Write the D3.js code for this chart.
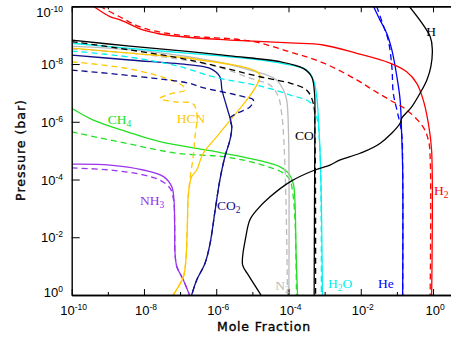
<!DOCTYPE html>
<html>
<head>
<meta charset="utf-8">
<script src="https://cdn.jsdelivr.net/npm/d3@7"></script>
<style>
  body { margin: 0; background: #fff; }
</style>
</head>
<body>
<div id="chart"></div>
<script>
// every profile is a list of [log10 mole fraction, log10 pressure (bar)]
const h2Solid = [[-9.40,-10],[-8.94,-9.64],[-8.66,-9.53],[-8.03,-9.18],[-7.56,-9.04],[-6.73,-8.92],[-5.62,-8.83],[-3.96,-8.73],[-3.04,-8.66],[-2.11,-8.37],[-1.19,-8.03],[-0.73,-7.73],[-0.45,-7.33],[-0.27,-6.75],[-0.13,-5.95],[-0.04,-5.02],[-0.04,0]]
const h2Dashed = [[-9.22,-10],[-8.66,-9.63],[-8.03,-9.25],[-7.0,-9.0],[-5.07,-8.8],[-3.96,-8.42],[-3.04,-8.04],[-2.11,-7.45],[-1.66,-7.1],[-1.19,-6.75],[-0.73,-6.41],[-0.28,-5.83],[-0.13,-5.37],[-0.08,-4.79],[-0.08,0]]
const heSolid = [[-1.65,-10],[-1.47,-9.53],[-1.28,-9.06],[-1.14,-8.49],[-1.0,-7.56],[-0.91,-6.75],[-0.87,-5.61],[-0.84,-4.33],[-0.84,0]]
const heDashed = [[-1.56,-10],[-1.38,-9.35],[-1.24,-8.83],[-1.14,-7.91],[-1.10,-6.99],[-1.0,-6.41],[-0.87,-5.61],[-0.84,-4.33],[-0.84,0]]
const hSolid = [[-0.66,-10],[-0.08,-8.95],[-0.02,-8.49],[-0.06,-7.91],[-0.17,-7.45],[-0.36,-6.99],[-0.59,-6.52],[-0.87,-6.12],[-0.91,-5.95],[-1.47,-5.25],[-2.02,-4.91],[-2.57,-4.68],[-2.85,-4.50],[-3.27,-4.33],[-3.96,-3.92],[-4.51,-3.40],[-4.88,-2.94],[-5.07,-2.60],[-5.18,-2.02],[-5.27,-1.04],[-5.11,-0.69],[-4.76,0]]
const h2oSolid = [[-10,-8.72],[-8.39,-8.54],[-6.73,-8.37],[-5.62,-8.25],[-4.23,-8.03],[-3.50,-7.79],[-3.31,-7.45],[-3.22,-6.87],[-3.17,-6.06],[-3.11,-4.33],[-3.06,0]]
const h2oDashed = [[-10,-8.45],[-8.39,-8.24],[-7.0,-7.91],[-6.09,-7.56],[-4.70,-7.21],[-3.96,-6.93],[-3.40,-6.67],[-3.22,-6.17],[-3.13,-5.02],[-3.09,0]]
const coSolid = [[-10,-8.83],[-8.39,-8.62],[-6.73,-8.43],[-5.62,-8.28],[-4.23,-8.08],[-3.59,-7.85],[-3.36,-7.56],[-3.28,-6.99],[-3.27,-6.06],[-3.28,-3.29],[-3.29,0]]
const coDashed = [[-10,-8.78],[-8.39,-8.49],[-6.73,-8.14],[-4.79,-7.56],[-3.96,-7.34],[-3.50,-7.10],[-3.31,-6.62],[-3.27,-5.72],[-3.25,0]]
const n2Solid = [[-10,-8.62],[-7.83,-8.43],[-5.99,-8.08],[-5.06,-7.79],[-4.60,-7.62],[-4.33,-7.45],[-4.14,-7.10],[-4.05,-6.75],[-4.00,-5.61],[-3.99,0]]
const n2Dashed = [[-10,-8.52],[-7.83,-8.31],[-5.99,-7.91],[-5.06,-7.51],[-4.51,-7.27],[-4.28,-6.87],[-4.19,-6.29],[-4.14,-5.61],[-4.07,-3.29],[-4.03,0]]
const hcnSolid = [[-10,-8.55],[-8.39,-8.38],[-6.73,-8.20],[-6.45,-8.14],[-5.53,-7.97],[-4.97,-7.79],[-4.79,-7.62],[-4.88,-7.27],[-5.16,-6.75],[-5.53,-6.18],[-5.99,-5.48],[-6.36,-4.91],[-6.54,-4.33],[-6.68,-4.10],[-6.77,-3.52],[-6.80,-2.37],[-6.84,-1.21],[-6.91,-0.63],[-7.19,0]]
const hcnDashed = [[-10,-8.08],[-8.48,-7.85],[-7.42,-7.52],[-6.92,-7.24],[-6.86,-7.10],[-7.28,-6.96],[-7.56,-6.81],[-7.14,-6.69],[-6.64,-6.62],[-6.53,-6.23],[-6.59,-5.47],[-6.64,-4.78],[-6.73,-3.98],[-6.78,-3.29],[-6.80,-2.37],[-6.84,-1.21],[-6.91,-0.63],[-7.19,0]]
const co2Solid = [[-10,-8.31],[-8.39,-8.14],[-6.73,-7.97],[-6.17,-7.85],[-5.90,-7.56],[-5.84,-7.10],[-5.71,-6.52],[-5.57,-5.83],[-5.62,-5.37],[-5.76,-4.79],[-5.90,-3.98],[-6.03,-2.94],[-6.17,-1.79],[-6.31,-1.10],[-6.54,-0.52],[-6.68,0]]
const co2Dashed = [[-10,-7.79],[-8.39,-7.60],[-6.73,-7.33],[-6.45,-7.21],[-5.25,-6.87],[-4.97,-6.75],[-5.06,-6.52],[-5.43,-6.29],[-5.62,-6.13],[-5.57,-5.83],[-5.62,-5.37],[-5.76,-4.79],[-5.90,-3.98],[-6.03,-2.94],[-6.17,-1.79],[-6.31,-1.10],[-6.54,-0.52],[-6.68,0]]
const ch4Solid = [[-10,-6.47],[-9.40,-6.06],[-8.48,-5.66],[-7.56,-5.31],[-6.17,-5.00],[-4.88,-4.68],[-4.23,-4.44],[-4.00,-4.22],[-3.87,-3.87],[-3.82,-3.18],[-3.79,-1.44],[-3.75,0]]
const ch4Dashed = [[-10,-5.65],[-8.48,-5.25],[-7.09,-4.91],[-5.80,-4.79],[-4.88,-4.56],[-4.14,-4.22],[-3.96,-3.98],[-3.88,-3.52],[-3.82,-2.60],[-3.78,0]]
const nh3Solid = [[-10,-4.53],[-8.94,-4.50],[-8.02,-4.33],[-7.46,-4.10],[-7.23,-3.75],[-7.17,-3.29],[-7.15,-2.37],[-7.14,-1.44],[-7.09,-0.98],[-6.91,-0.52],[-6.74,0]]
const nh3Dashed = [[-10,-4.40],[-8.94,-4.33],[-8.02,-4.16],[-7.56,-3.98],[-7.28,-3.70],[-7.18,-3.29],[-7.15,-2.37],[-7.14,-1.44],[-7.09,-0.98],[-6.91,-0.52],[-6.74,0]]

const xTicks = [-10, -9, -8, -7, -6, -5, -4, -3, -2, -1, 0]
const xTickLabels = [-10, -8, -6, -4, -2, 0]
const yTickLabels = [-10, -8, -6, -4, -2, 0]

const profiles = [
  { line: nh3Solid, color: "#9933ee" }, { line: nh3Dashed, color: "#9933ee", dash: true },
  { line: ch4Solid, color: "#22e022" }, { line: ch4Dashed, color: "#22e022", dash: true },
  { line: n2Solid, color: "#bbbbbb" }, { line: n2Dashed, color: "#bbbbbb", dash: true },
  { line: hcnSolid, color: "#ffc800" }, { line: hcnDashed, color: "#ffc800", dash: true },
  { line: co2Solid, color: "#10108c" }, { line: co2Dashed, color: "#10108c", dash: true },
  { line: h2oSolid, color: "#00f0f0" }, { line: h2oDashed, color: "#00f0f0", dash: true },
  { line: coSolid, color: "#000000" }, { line: coDashed, color: "#000000", dash: true },
  { line: heSolid, color: "#0000ff" }, { line: heDashed, color: "#0000ff", dash: true },
  { line: h2Solid, color: "#ff0000" }, { line: h2Dashed, color: "#ff0000", dash: true },
  { line: hSolid, color: "#000000" }
]

// name, subscript, label anchor (log x, log p), colour
const labels = [
  ["H", "", -0.19, -8.97, "#000"],
  ["CH", "4", -9.0, -5.92, "#22e022"],
  ["HCN", "", -7.09, -5.96, "#ffc800"],
  ["NH", "3", -8.11, -3.12, "#9933ee"],
  ["CO", "2", -5.98, -2.94, "#10108c"],
  ["CO", "", -3.82, -5.37, "#000"],
  ["N", "2", -4.37, -0.17, "#bbbbbb"],
  ["H", "2O", -2.91, -0.24, "#00f0f0"],
  ["He", "", -1.52, -0.24, "#0000ff"],
  ["H", "2", 0.03, -3.46, "#ff0000"]
]

const width = 451, height = 337
const svg = d3.select("#chart").append("svg")
    .attr("width", width)
    .attr("height", height)

const x = d3.scaleLog().domain([1e-10, Math.pow(10, 0.5)]).range([71.7, 451.1])
const y = d3.scaleLog().domain([1e-10, 1]).range([6.3, 295])

svg.append("clipPath").attr("id", "plot")
  .append("rect").attr("x", 71.7).attr("y", 6.3).attr("width", 380).attr("height", 288.7)

const line = d3.line()
    .x(d => x(Math.pow(10, d[0])))
    .y(d => y(Math.pow(10, d[1])))
    .curve(d3.curveCatmullRom.alpha(0.5))

svg.append("g").attr("clip-path", "url(#plot)")
  .selectAll("path")
  .data(profiles)
  .join("path")
    .attr("d", d => line(d.line))
    .attr("fill", "none")
    .attr("stroke", d => d.color)
    .attr("stroke-width", 1.3)
    .attr("stroke-dasharray", d => d.dash ? "6,4" : null)

/* axes */
const major = xTickLabels.map(v => Math.pow(10, v))
const minor = xTicks.filter(v => !xTickLabels.includes(v)).map(v => Math.pow(10, v))

const drawAxis = (gen, tr) => {
  const g = svg.append("g").attr("transform", tr).call(gen)
  g.selectAll("text").remove()
  g.selectAll("line").attr("stroke", "#000")
  g.select(".domain").attr("stroke", "#000").attr("stroke-width", 1.4)
  return g
}
drawAxis(d3.axisBottom(x).tickValues(major).tickSizeInner(-6).tickSizeOuter(0), "translate(0,295)")
drawAxis(d3.axisBottom(x).tickValues(minor).tickSizeInner(-3).tickSizeOuter(0), "translate(0,295)")
drawAxis(d3.axisTop(x).tickValues(major).tickSizeInner(-6).tickSizeOuter(0), "translate(0,6.3)")
drawAxis(d3.axisTop(x).tickValues(minor).tickSizeInner(-3).tickSizeOuter(0), "translate(0,6.3)")
drawAxis(d3.axisLeft(y).tickValues(yTickLabels.map(v => Math.pow(10, v))).tickSizeInner(-8).tickSizeOuter(0), "translate(71.7,0)")

const tickLabel = (sel, exp) => {
  sel.append("tspan").text("10")
  sel.append("tspan").attr("dy", -5).attr("font-size", "8.5px").text(exp)
}

xTickLabels.forEach(e => {
  svg.append("text")
      .attr("x", x(Math.pow(10, e)) + 2)
      .attr("y", 315)
      .attr("text-anchor", "middle")
      .attr("font-family", "Liberation Sans, Arial, sans-serif")
      .attr("font-size", "13px")
      .call(tickLabel, e)
})

yTickLabels.forEach(e => {
  svg.append("text")
      .attr("x", 63)
      .attr("y", Math.max(17, Math.min(297, y(Math.pow(10, e)) + 5)))
      .attr("text-anchor", "end")
      .attr("font-family", "Liberation Sans, Arial, sans-serif")
      .attr("font-size", "13px")
      .call(tickLabel, e)
})

svg.append("text")
    .attr("x", 264)
    .attr("y", 331)
    .attr("text-anchor", "middle")
    .attr("font-family", "DejaVu Sans, sans-serif")
    .attr("font-size", "12.5px")
    .attr("letter-spacing", "0.8px")
    .attr("stroke", "#000")
    .attr("stroke-width", 0.35)
    .text("Mole Fraction")

svg.append("text")
    .attr("transform", "translate(25,150) rotate(-90)")
    .attr("text-anchor", "middle")
    .attr("font-family", "DejaVu Sans, sans-serif")
    .attr("font-size", "12.5px")
    .attr("letter-spacing", "1px")
    .attr("stroke", "#000")
    .attr("stroke-width", 0.35)
    .text("Pressure (bar)")

/* species labels */
labels.forEach(([name, sub, lx, lp, color]) => {
  const t = svg.append("text")
      .attr("x", x(Math.pow(10, lx)))
      .attr("y", y(Math.pow(10, lp)))
      .attr("fill", color)
      .attr("font-family", "Liberation Serif, Times New Roman, serif")
      .attr("font-size", "13.5px")
  t.append("tspan").text(name)
  if (sub) {
    const digits = sub.replace(/\D/g, "")
    const rest = sub.replace(/\d/g, "")
    t.append("tspan").attr("dy", 3).attr("font-size", "9.5px").text(digits)
    if (rest) t.append("tspan").attr("dy", -3).text(rest)
  }
})
</script>
</body>
</html>
